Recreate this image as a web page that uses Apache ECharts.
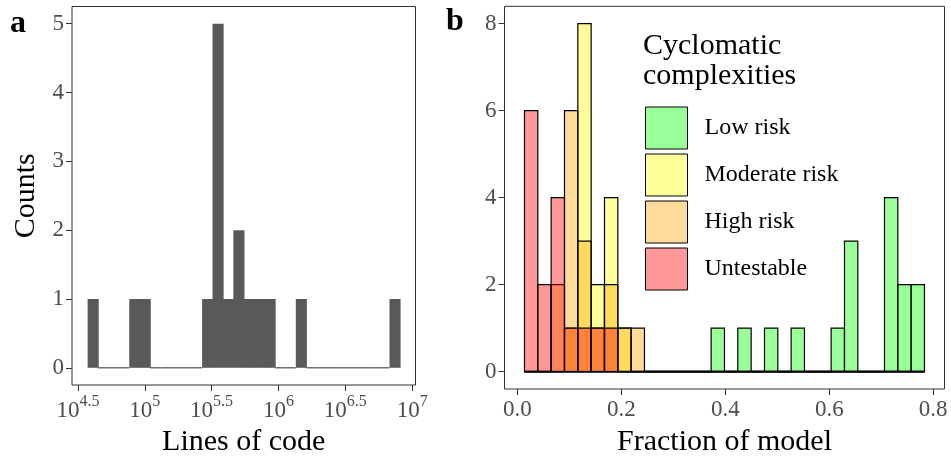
<!DOCTYPE html>
<html>
<head>
<meta charset="utf-8">
<script src="https://cdn.jsdelivr.net/npm/echarts@6/dist/echarts.min.js"></script>
<style>
html,body{margin:0;padding:0;background:#fff;}
#chart{width:951px;height:456px;}
</style>
</head>
<body>
<div id="chart"></div>
<script>
// ---------- Panel a: lines of code (log10 bins) ----------
const locBinStart = 4.5724;      // log10 of first bin edge
const locBinWidth = 0.07786;     // bin width in log10 units
const locCounts = [1,0,0,0,1,1,0,0,0,0,0,1,5,1,2,1,1,1,0,0,1,0,0,0,0,0,0,0,0,1];
const locXTicks = [4.5, 5, 5.5, 6, 6.5, 7];
const locYTicks = [0, 1, 2, 3, 4, 5];

// ---------- Panel b: fraction of model per complexity class ----------
const fracBinStart = 0.01346;
const fracBinWidth = 0.02566;
const categories = ['Low risk', 'Moderate risk', 'High risk', 'Untestable'];
const lowRisk      = [0,0,0,0,0,0,0,0,0,0,0,0,0,0,1,0,1,0,1,0,1,0,0,1,3,0,0,4,2,2];
const moderateRisk = [0,0,0,1,8,2,4,1,0,0,0,0,0,0,0,0,0,0,0,0,0,0,0,0,0,0,0,0,0,0];
const highRisk     = [0,0,2,6,3,1,2,1,1,0,0,0,0,0,0,0,0,0,0,0,0,0,0,0,0,0,0,0,0,0];
const untestable   = [6,2,4,1,1,1,1,0,0,0,0,0,0,0,0,0,0,0,0,0,0,0,0,0,0,0,0,0,0,0];
const fracXTicks = [0, 0.2, 0.4, 0.6, 0.8];
const fracYTicks = [0, 2, 4, 6, 8];

const FONT = '"Liberation Serif", "DejaVu Serif", serif';
const catColors = ['rgba(0,255,0,0.4)', 'rgba(255,255,0,0.4)', 'rgba(255,165,0,0.4)', 'rgba(255,0,0,0.4)'];

function binData(start, width, counts) {
  return counts.map((c, i) => [start + i * width, start + (i + 1) * width, c]);
}

function makeRender(fill, stroke, lw, zeroColor, zeroWidth, seamFix) {
  return function (params, api) {
    const x0 = api.value(0), x1 = api.value(1), v = api.value(2);
    const pTop = api.coord([x0, v]);
    const pBot = api.coord([x1, 0]);
    if (v > 0) {
      return {
        type: 'rect',
        shape: { x: pTop[0], y: pTop[1], width: pBot[0] - pTop[0] + seamFix, height: pBot[1] - pTop[1] },
        style: stroke ? { fill: fill, stroke: stroke, lineWidth: lw } : { fill: fill, stroke: null, lineWidth: 0 }
      };
    }
    return {
      type: 'line',
      shape: { x1: pTop[0], y1: pBot[1], x2: pBot[0], y2: pBot[1] },
      style: { stroke: zeroColor, lineWidth: zeroWidth }
    };
  };
}

const tickLabelStyle = { color: '#4D4D4D', fontFamily: FONT, fontSize: 23 };
const axisTitleStyle = { color: '#000', fontFamily: FONT, fontSize: 30 };
const tickLine = { color: '#333', width: 1 };

const chart = echarts.init(document.getElementById('chart'), null, { renderer: 'canvas' });

const seriesB = [lowRisk, moderateRisk, highRisk, untestable].map((arr, k) => ({
  type: 'custom',
  name: categories[k],
  xAxisIndex: 1,
  yAxisIndex: 1,
  itemStyle: { color: catColors[k], borderColor: '#000', borderWidth: 1 },
  encode: { x: [0, 1], y: 2 },
  data: binData(fracBinStart, fracBinWidth, arr),
  renderItem: makeRender(catColors[k], '#000', 1.2, '#000', 1.6, 0),
  silent: true
}));

const option = {
  backgroundColor: '#fff',
  animation: false,
  grid: [
    { left: 72, top: 6.5, width: 343.5, height: 378.5, show: true, borderColor: '#333', borderWidth: 1, backgroundColor: 'transparent', containLabel: false, outerBoundsMode: 'none' },
    { left: 504.5, top: 6.3, width: 440, height: 382.7, show: true, borderColor: '#333', borderWidth: 1, backgroundColor: 'transparent', containLabel: false, outerBoundsMode: 'none' }
  ],
  xAxis: [
    {
      type: 'value', gridIndex: 0, min: 4.4556, max: 7.025, position: 'bottom',
      axisLine: { show: false, onZero: false }, splitLine: { show: false },
      axisTick: { show: true, length: 6, lineStyle: tickLine, customValues: locXTicks },
      axisLabel: {
        customValues: locXTicks, margin: 9,
        formatter: v => '{b|10}{s|' + String(v) + '}',
        rich: {
          b: { fontFamily: FONT, fontSize: 23, color: '#4D4D4D', lineHeight: 28, verticalAlign: 'bottom' },
          s: { fontFamily: FONT, fontSize: 16, color: '#4D4D4D', lineHeight: 20, verticalAlign: 'top' }
        }
      },
      name: 'Lines of code', nameLocation: 'middle', nameGap: 42, nameTextStyle: axisTitleStyle
    },
    {
      type: 'value', gridIndex: 1, min: -0.025, max: 0.8218, position: 'bottom',
      axisLine: { show: false, onZero: false }, splitLine: { show: false },
      axisTick: { show: true, length: 6, lineStyle: tickLine, customValues: fracXTicks },
      axisLabel: Object.assign({ customValues: fracXTicks, margin: 9, formatter: v => v.toFixed(1) }, tickLabelStyle),
      name: 'Fraction of model', nameLocation: 'middle', nameGap: 38, nameTextStyle: axisTitleStyle
    }
  ],
  yAxis: [
    {
      type: 'value', gridIndex: 0, min: -0.25, max: 5.25, position: 'left',
      axisLine: { show: false, onZero: false }, splitLine: { show: false },
      axisTick: { show: true, length: 6, lineStyle: tickLine, customValues: locYTicks },
      axisLabel: Object.assign({ customValues: locYTicks, margin: 8, formatter: v => String(v) }, tickLabelStyle),
      name: 'Counts', nameLocation: 'middle', nameGap: 31, nameRotate: 90, nameTextStyle: axisTitleStyle
    },
    {
      type: 'value', gridIndex: 1, min: -0.4, max: 8.4, position: 'left',
      axisLine: { show: false, onZero: false }, splitLine: { show: false },
      axisTick: { show: true, length: 6, lineStyle: tickLine, customValues: fracYTicks },
      axisLabel: Object.assign({ customValues: fracYTicks, margin: 8, formatter: v => String(v) }, tickLabelStyle)
    }
  ],
  legend: {
    data: categories,
    orient: 'vertical',
    left: 645, top: 106.5, padding: 0,
    itemWidth: 42, itemHeight: 42, itemGap: 4,
    icon: 'rect',
    itemStyle: { borderColor: '#000', borderWidth: 1 },
    textStyle: { fontFamily: FONT, fontSize: 24, color: '#000', padding: [0, 0, 0, 12] },
    selectedMode: false
  },
  graphic: [
    { type: 'text', left: 10, top: 8, style: { text: 'a', font: 'bold 32px ' + FONT, fill: '#000' } },
    { type: 'text', left: 446, top: 6, style: { text: 'b', font: 'bold 32px ' + FONT, fill: '#000' } },
    { type: 'text', left: 643, top: 31, style: { text: 'Cyclomatic\ncomplexities', font: '30px ' + FONT, fill: '#000', lineHeight: 30 } }
  ],
  series: [
    {
      type: 'custom',
      name: 'Lines of code',
      xAxisIndex: 0, yAxisIndex: 0,
      encode: { x: [0, 1], y: 2 },
      data: binData(locBinStart, locBinWidth, locCounts),
      renderItem: makeRender('#595959', null, 0, '#595959', 1.3, 0.7),
      silent: true
    }
  ].concat(seriesB)
};

chart.setOption(option);
</script>
</body>
</html>
